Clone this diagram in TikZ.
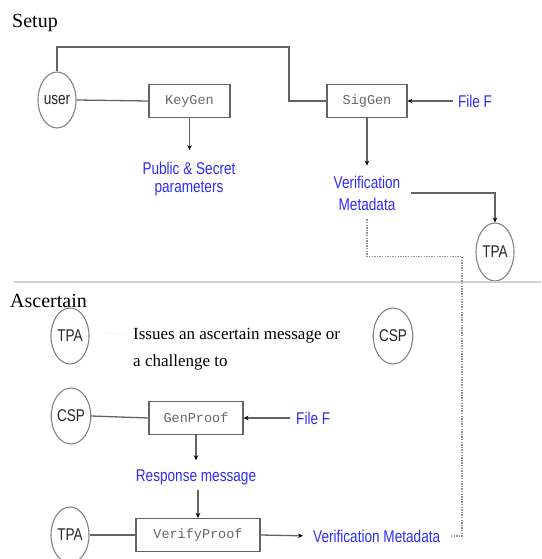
\documentclass[tikz,border=0pt]{standalone}
\usepackage{fontspec}
\setmainfont{Liberation Serif}
\setmonofont{Liberation Mono}
\newfontfamily\narrowsans[FakeStretch=0.8]{Liberation Sans}
\usetikzlibrary{arrows.meta,shapes.geometric}
\definecolor{lbl}{RGB}{45,45,245}
\definecolor{edge}{RGB}{100,100,100}
\definecolor{rim}{RGB}{130,130,130}

\begin{document}
\begin{tikzpicture}[x=1pt,y=-1pt,
  party/.style={ellipse, draw=rim, line width=1.1pt, inner sep=0pt,
    minimum width=38pt, minimum height=56pt, text=black!85,
    font=\narrowsans\fontsize{17}{17}\selectfont},
  algo/.style={rectangle, draw=edge, line width=1.1pt, inner sep=0pt,
    minimum height=33pt, text=gray!80!black,
    font=\ttfamily\fontsize{13.5}{14}\selectfont},
  info/.style={text=lbl, inner sep=0pt, align=center,
    font=\narrowsans\fontsize{17}{21}\selectfont},
  heading/.style={anchor=base west, inner sep=0pt,
    font=\fontsize{20}{24}\selectfont},
  prose/.style={anchor=base west, inner sep=0pt,
    font=\fontsize{17}{20}\selectfont},
  link/.style={draw=edge, line width=1.3pt},
  flow/.style={link, -{Stealth[black,length=5pt,width=4.5pt]}},
  trace/.style={draw=gray!85, line width=1.2pt, dash pattern=on 1.3pt off 1.3pt},
  faint/.style={draw=gray!25, line width=0.8pt, dash pattern=on 1pt off 1.5pt}]

\useasboundingbox (0,0) rectangle (541,559);

% ---------- Setup ----------
\node[heading] (setup) at (12,28) {Setup};

\node[party] (user) at (57,100) {user};
\node[algo, minimum width=81pt] (keygen) at (189.5,101) {KeyGen};
\node[algo, minimum width=80pt] (siggen) at (367,101) {SigGen};
\node[info] (fileA) at (475,101) {File F};
\node[info, font=\narrowsans\fontsize{17}{17.5}\selectfont] (params) at (189,179) {Public \& Secret\\parameters};
\node[info, font=\narrowsans\fontsize{17}{22}\selectfont] (vmeta) at (367,193) {Verification\\Metadata};
\node[party, minimum height=58pt] (tpaA) at (495,252) {TPA};

\draw[link] (user.north) |- (289,47) |- (siggen.west);
\draw[link] (user.east) -- (keygen.west);
\draw[flow, shorten >=12pt] (keygen.south) -- (keygen.south |- params.north);
\draw[flow, shorten <=5pt] (fileA.west) -- (siggen.east);
\draw[flow, shorten >=10pt] (siggen.south) -- (vmeta.north);
\draw[flow, shorten <=11pt] (vmeta.east) -| (tpaA.north);

% separator between the two phases
\draw[gray!35, line width=1.5pt] (14,282) -- (541,282);

% ---------- Ascertain ----------
\node[heading] (ascertain) at (10,307) {Ascertain};

\node[party] (tpaB) at (70,336) {TPA};
\node[prose] (issue1) at (133,339) {Issues an ascertain message or};
\node[prose] (issue2) at (133,366) {a challenge to};
\node[party] (cspA) at (393,336) {CSP};
\draw[faint] ([xshift=16pt,yshift=4pt]tpaB.east) -- ([xshift=-6pt]issue1.west);

\node[party] (cspB) at (71,416) {CSP};
\node[algo, minimum width=94pt] (genproof) at (196,418) {GenProof};
\node[info, anchor=west] (fileB) at (296,418) {File F};
\node[info] (resp) at (196,477) {Response message};
\node[party] (tpaC) at (70,535) {TPA};
\node[algo, minimum width=124pt] (verify) at (198,535) {VerifyProof};
\node[info, anchor=west] (vmetaB) at (313,536) {Verification Metadata};

\draw[link] (cspB.east) -- (genproof.west);
\draw[flow, shorten <=6pt] (fileB.west) -- (genproof.east);
\draw[flow, shorten >=9pt] (genproof.south) -- (genproof.south |- resp.north);
\draw[flow, shorten <=5pt] (resp.south -| verify.north) -- (verify.north);
\draw[link] (tpaC.east) -- (verify.west);
\draw[flow, shorten >=10pt] (verify.east) -- (vmetaB.west);

% dotted trace from the stored metadata down to the verification result
\draw[trace, shorten <=9pt, shorten >=10pt] (vmeta.south) |- ++(95,46) |- (vmetaB.east);
\end{tikzpicture}
\end{document}
